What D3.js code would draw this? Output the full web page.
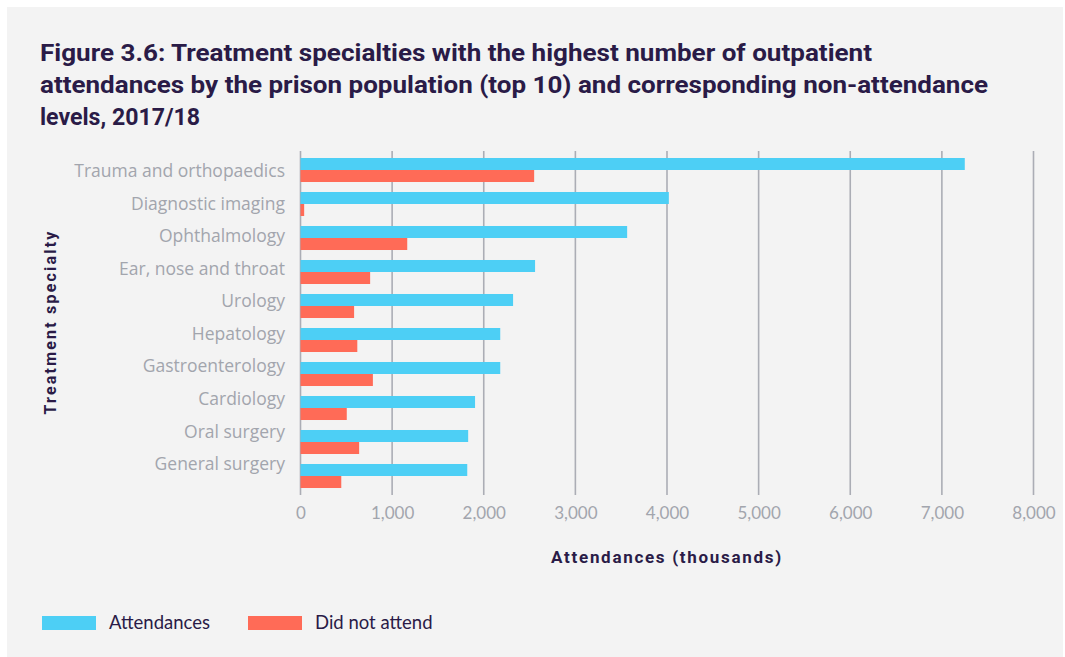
<!DOCTYPE html>
<html>
<head>
<meta charset="utf-8">
<script src="https://cdn.jsdelivr.net/npm/d3@7"></script>
<style>
    body { margin: 0; background: #fff; }
    svg { display: block; }
</style>
</head>
<body>
<div id="chart"></div>
<script>
var specialties = [
    'Trauma and orthopaedics', 'Diagnostic imaging', 'Ophthalmology', 'Ear, nose and throat',
    'Urology', 'Hepatology', 'Gastroenterology', 'Cardiology', 'Oral surgery', 'General surgery'
];
var attendances = [7250, 4020, 3565, 2560, 2320, 2180, 2180, 1905, 1830, 1820];
var didNotAttend = [2550, 40, 1165, 760, 585, 620, 790, 505, 640, 445];
var xTicks = [0, 1000, 2000, 3000, 4000, 5000, 6000, 7000, 8000];
var seriesNames = ['Attendances', 'Did not attend'];
var seriesColors = ['#4dcff5', '#ff6b57'];
var titleLines = [
    'Figure 3.6: Treatment specialties with the highest number of outpatient',
    'attendances by the prison population (top 10) and corresponding non-attendance',
    'levels, 2017/18'
];

var width = 1065, height = 657;
var dark = '#2a1b47';
var grey = '#a2a5ad';

var svg = d3.select('#chart').append('svg')
    .attr('width', width)
    .attr('height', height);

svg.append('rect')
    .attr('x', 7).attr('y', 7)
    .attr('width', 1056).attr('height', 652)
    .attr('fill', '#f3f3f3');

// title, squeezed to the width of the original condensed face
var titleWidths = [832, 948, 160];
svg.append('g').selectAll('text')
    .data(titleLines)
    .enter().append('text')
    .attr('x', 40)
    .attr('y', function(d, i) { return 61 + i * 32; })
    .attr('textLength', function(d, i) { return titleWidths[i]; })
    .attr('lengthAdjust', 'spacingAndGlyphs')
    .attr('font-family', 'Roboto, sans-serif')
    .attr('font-weight', 700)
    .attr('font-size', 24)
    .attr('fill', dark)
    .text(function(d) { return d; });

var x = d3.scaleLinear().domain([0, 8000]).range([300.5, 1033.5]);
var y = d3.scaleBand().domain(specialties).range([153, 493]).paddingInner(0.294).paddingOuter(0.147);
var sub = d3.scaleBand().domain(seriesNames).range([0, y.bandwidth()]);
// the labels in the original sit on a slightly tighter pitch than the bars
var yLabel = d3.scalePoint().domain(specialties).range([171, 464]);

// gridlines
svg.append('g').selectAll('line')
    .data(xTicks)
    .enter().append('line')
    .attr('x1', function(d) { return x(d); })
    .attr('x2', function(d) { return x(d); })
    .attr('y1', 151)
    .attr('y2', 495)
    .attr('stroke', '#abadb5')
    .attr('stroke-width', 1.6);

// bars
var rows = specialties.map(function(s, i) {
    return { name: s, values: [attendances[i], didNotAttend[i]] };
});

var group = svg.append('g').selectAll('g')
    .data(rows)
    .enter().append('g')
    .attr('transform', function(d) { return 'translate(0,' + y(d.name) + ')'; });

group.selectAll('rect')
    .data(function(d) { return d.values; })
    .enter().append('rect')
    .attr('x', x(0))
    .attr('y', function(d, i) { return sub(seriesNames[i]); })
    .attr('width', function(d) { return x(d) - x(0); })
    .attr('height', sub.bandwidth())
    .attr('fill', function(d, i) { return seriesColors[i]; });

// category labels
svg.append('g').selectAll('text')
    .data(specialties)
    .enter().append('text')
    .attr('x', 285)
    .attr('y', function(d) { return yLabel(d); })
    .attr('dy', '0.35em')
    .attr('text-anchor', 'end')
    .attr('font-family', '"Open Sans", sans-serif')
    .attr('font-size', 17.5)
    .attr('fill', grey)
    .text(function(d) { return d; });

// x axis labels
var fmt = d3.format(',');
var xAxis = svg.append('g')
    .attr('transform', 'translate(0,495)')
    .call(d3.axisBottom(x).tickValues(xTicks).tickFormat(fmt).tickSize(0).tickPadding(12));
xAxis.select('.domain').remove();
xAxis.selectAll('text')
    .attr('font-family', 'Lato, sans-serif')
    .attr('font-size', 17)
    .attr('fill', grey);

svg.append('text')
    .attr('x', 667)
    .attr('y', 563)
    .attr('text-anchor', 'middle')
    .attr('font-family', 'Roboto, sans-serif')
    .attr('font-weight', 700)
    .attr('font-size', 17)
    .attr('letter-spacing', 1.7)
    .attr('fill', dark)
    .text('Attendances (thousands)');

svg.append('text')
    .attr('transform', 'translate(56,322) rotate(-90)')
    .attr('text-anchor', 'middle')
    .attr('font-family', 'Roboto, sans-serif')
    .attr('font-weight', 700)
    .attr('font-size', 16)
    .attr('letter-spacing', 2.2)
    .attr('fill', dark)
    .text('Treatment specialty');

// legend
var legendX = [42, 248];
var legend = svg.append('g').selectAll('g')
    .data(seriesNames)
    .enter().append('g')
    .attr('transform', function(d, i) { return 'translate(' + legendX[i] + ',616)'; });

legend.append('rect')
    .attr('width', 54)
    .attr('height', 14)
    .attr('fill', function(d, i) { return seriesColors[i]; });

legend.append('text')
    .attr('x', 67)
    .attr('y', 7)
    .attr('dy', '0.35em')
    .attr('font-family', 'Lato, sans-serif')
    .attr('font-size', 18.5)
    .attr('fill', dark)
    .text(function(d) { return d; });
</script>
</body>
</html>
